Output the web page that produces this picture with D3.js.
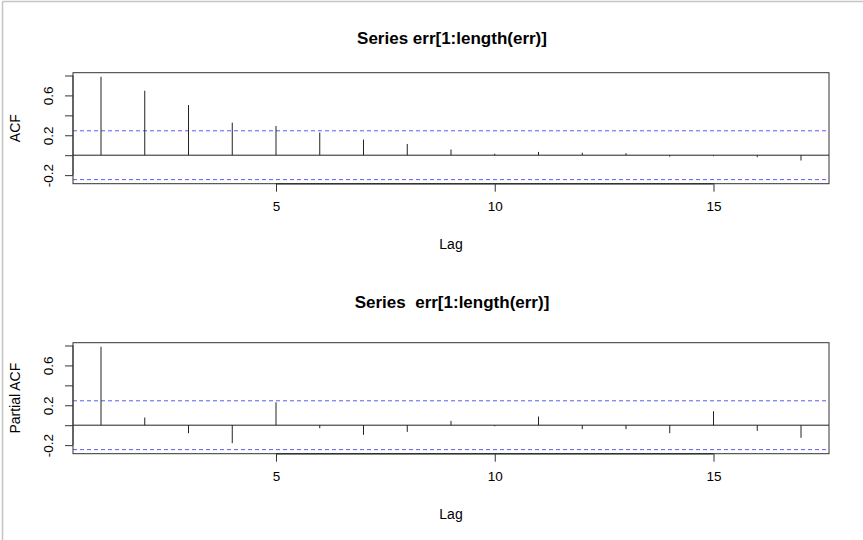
<!DOCTYPE html>
<html><head><meta charset="utf-8">
<script src="https://cdn.jsdelivr.net/npm/d3@7"></script>
<style>body{margin:0;background:#fff}svg{display:block;font-family:"Liberation Sans",Arial,Helvetica,sans-serif}</style>
</head><body>
<script>
const lags = [1,2,3,4,5,6,7,8,9,10,11,12,13,14,15,16,17];
const acfValues = [0.787,0.647,0.503,0.327,0.293,0.227,0.157,0.113,0.057,0.015,0.033,0.025,0.02,-0.015,-0.01,-0.02,-0.053];
const pacfValues = [0.787,0.077,-0.08,-0.18,0.23,-0.03,-0.097,-0.067,0.043,-0.01,0.087,-0.04,-0.04,-0.08,0.14,-0.057,-0.127];
const ciLimit = 0.245;
const xTicks = [5,10,15];
const yTicks = [-0.2,0,0.2,0.4,0.6,0.8];
const yTickLabels = ["-0.2","","0.2","","0.6",""];
const panels = [
  {title:"Series err[1:length(err)]", ylab:"ACF", values:acfValues, top:72.7, titleY:44},
  {title:"Series  err[1:length(err)]", ylab:"Partial ACF", values:pacfValues, top:342.7, titleY:308}
];

const W=863,H=540;
const svg=d3.select("body").append("svg").attr("width",W).attr("height",H);
svg.append("rect").attr("width",W).attr("height",H).attr("fill","#fff");
svg.append("line").attr("x1",2.5).attr("x2",W).attr("y1",1.5).attr("y2",1.5).attr("stroke","#c4c4c4").attr("stroke-width",1.5);
svg.append("line").attr("x1",2.5).attr("x2",2.5).attr("y1",1.5).attr("y2",H).attr("stroke","#c4c4c4").attr("stroke-width",1.5);

const boxL=73, boxR=829, boxH=111;
const x=d3.scaleLinear().domain([0.36,17.64]).range([boxL,boxR]);

panels.forEach(p=>{
  const y=d3.scaleLinear().domain([-0.286,0.828]).range([p.top+boxH,p.top]);
  const g=svg.append("g");
  g.append("text").attr("x",452).attr("y",p.titleY).attr("text-anchor","middle")
    .attr("font-weight","bold").attr("font-size","17px").attr("fill","#000")
    .style("white-space","pre").text(p.title);
  g.append("line").attr("x1",boxL).attr("x2",boxR).attr("y1",y(0)).attr("y2",y(0)).attr("stroke","#222").attr("stroke-width",1);
  [ciLimit,-ciLimit].forEach(c=>{
    g.append("line").attr("x1",boxL).attr("x2",boxR).attr("y1",y(c)).attr("y2",y(c))
      .attr("stroke","#5a5aff").attr("stroke-width",1).attr("stroke-dasharray","4,3");
  });
  g.selectAll(".spike").data(lags).enter().append("line")
    .attr("x1",d=>x(d)).attr("x2",d=>x(d)).attr("y1",y(0)).attr("y2",(d,i)=>y(p.values[i]))
    .attr("stroke","#222").attr("stroke-width",1);
  g.append("rect").attr("x",boxL).attr("y",p.top).attr("width",boxR-boxL).attr("height",boxH)
    .attr("fill","none").attr("stroke","#333").attr("stroke-width",1);
  const xa=g.append("g").attr("transform",`translate(0,${p.top+boxH})`)
    .call(d3.axisBottom(x).tickValues(xTicks).tickSize(8).tickPadding(10).tickFormat(d3.format("d")));
  xa.select(".domain").attr("d",`M${x(5)},0H${x(15)}`).attr("stroke","#333").attr("stroke-width",1.5);
  xa.selectAll(".tick line").attr("stroke","#333");
  xa.selectAll("text").attr("font-size","13.5px").attr("fill","#000").attr("font-family","Liberation Sans, Arial, sans-serif");
  const ya=g.append("g").attr("transform",`translate(${boxL},0)`)
    .call(d3.axisLeft(y).tickValues(yTicks).tickSize(8).tickPadding(0).tickFormat((d,i)=>yTickLabels[i]));
  ya.select(".domain").attr("d",`M0,${y(-0.2)}V${y(0.8)}`).attr("stroke","#333");
  ya.selectAll(".tick line").attr("stroke","#333");
  ya.selectAll(".tick text").attr("font-size","13.5px").attr("fill","#000").attr("font-family","Liberation Sans, Arial, sans-serif")
    .attr("x",null).attr("dy",null)
    .attr("text-anchor","middle").attr("dominant-baseline","central")
    .attr("transform","translate(-25,0) rotate(-90)");
  g.append("text").attr("x",(boxL+boxR)/2).attr("y",p.top+boxH+65).attr("text-anchor","middle")
    .attr("font-size","14px").attr("fill","#000").text("Lag");
  g.append("text").attr("transform",`translate(20,${p.top+boxH/2}) rotate(-90)`).attr("text-anchor","middle")
    .attr("font-size","14px").attr("fill","#000").text(p.ylab);
});
</script>
</body></html>
